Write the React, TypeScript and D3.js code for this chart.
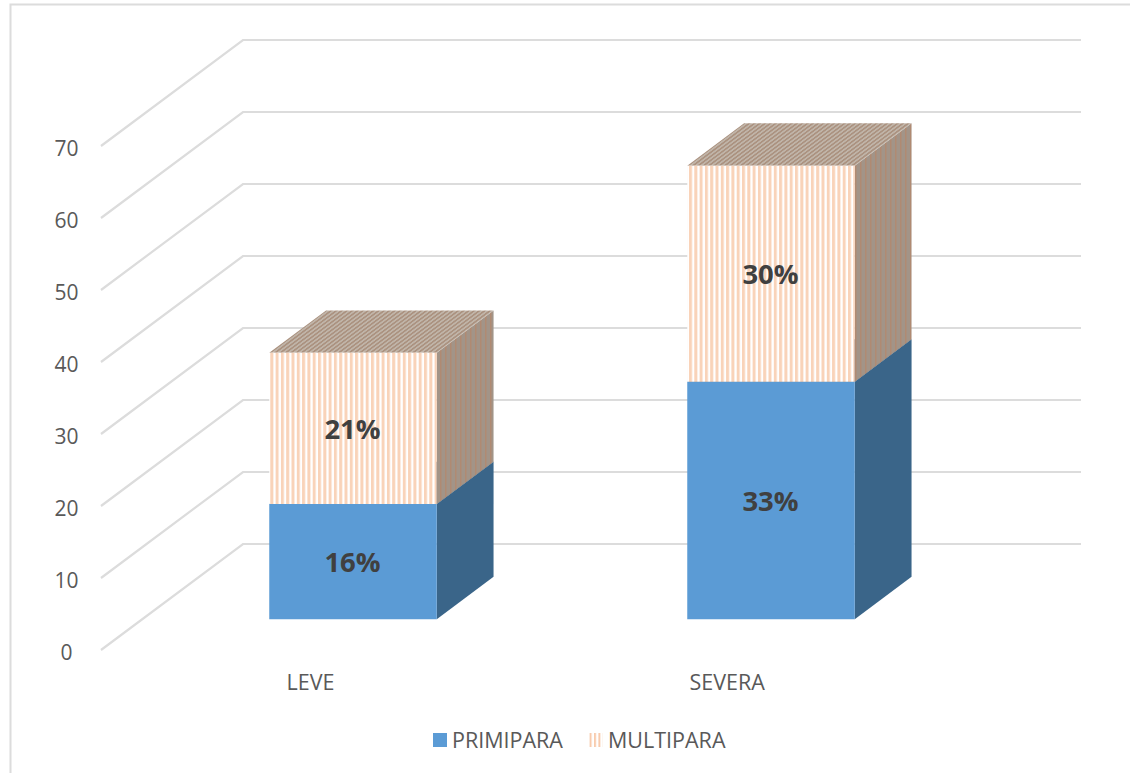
import React from "react";
import * as d3 from "d3";

const categories = ["LEVE", "SEVERA"];
const primipara = [16, 33];
const multipara = [21, 30];
const primiparaLabels = ["16%", "33%"];
const multiparaLabels = ["21%", "30%"];
const ticks = [0, 10, 20, 30, 40, 50, 60, 70];
const legendItems = ["PRIMIPARA", "MULTIPARA"];

const W = 1130, H = 773;
const FONT = "'Open Sans', sans-serif";
const y = d3.scaleLinear().domain([0, 70]).range([650, 146]);
const x = d3.scalePoint<string>().domain(categories).range([353, 771]);
const BAR_W = 167.5;
const DX = 142, DY = 106;
const barD0 = 0.29, barD1 = 0.69;
const px = (X: number, d: number) => X + DX * d;
const py = (v: number, d: number) => y(v) - DY * d;
const pts = (a: [number, number][]) => a.map((p) => p.join(",")).join(" ");

function Box({ cx, lo, hi, front, side, top }: any) {
  const l = cx - BAR_W / 2 - DX * barD0, r = l + BAR_W;
  const f = (X: number, v: number, d: number): [number, number] => [px(X, d), py(v, d)];
  return (
    <g>
      <polygon points={pts([f(r, lo, barD0), f(r, lo, barD1), f(r, hi, barD1), f(r, hi, barD0)])} fill={side} />
      <polygon points={pts([f(l, hi, barD0), f(r, hi, barD0), f(r, hi, barD1), f(l, hi, barD1)])} fill={top} />
      <polygon points={pts([f(l, lo, barD0), f(r, lo, barD0), f(r, hi, barD0), f(l, hi, barD0)])} fill={front} />
    </g>
  );
}

export default function App() {
  return (
    <svg width={W} height={H} style={{ position: "fixed", left: 0, top: 0, background: "#fff" }}>
      <defs>
        <pattern id="front" width={5.3} height={10} patternUnits="userSpaceOnUse">
          <rect width={5.3} height={10} fill="#fff" />
          <rect width={3} height={10} fill="#f9d3b9" />
        </pattern>
        <pattern id="legendP" width={4.4} height={10} patternUnits="userSpaceOnUse">
          <rect width={4.4} height={10} fill="#fff" />
          <rect width={2} height={10} fill="#f8cbad" />
        </pattern>
        <pattern id="side" width={5} height={10} patternUnits="userSpaceOnUse">
          <rect width={5} height={10} fill="#a29488" />
          <rect width={1.5} height={10} fill="#b08a72" />
        </pattern>
        <pattern id="top" width={5.3} height={10} patternUnits="userSpaceOnUse" patternTransform="skewX(-53)">
          <rect width={5.3} height={10} fill="#c0b4a8" />
          <rect width={2.6} height={10} fill="#ab9280" />
        </pattern>
      </defs>

      <path d={`M10.5,${H}V4.5H${W}`} fill="none" stroke="#dcdcdc" strokeWidth={2} />

      {ticks.map((t) => (
        <polyline
          key={t}
          points={pts([
            [101, y(t)],
            [101 + DX, y(t) - DY],
            [1081, y(t) - DY],
          ])}
          fill="none"
          stroke="#dcdcdc"
          strokeWidth={2.2}
        />
      ))}

      {ticks.map((t) => (
        <text key={t} x={66.5} y={y(t) + 9.5} fontFamily={FONT} fontSize={21} fill="#595959" textAnchor="middle">
          {t}
        </text>
      ))}

      {categories.map((c, i) => {
        const cx = x(c)!;
        return (
          <g key={c}>
            <Box cx={cx} lo={0} hi={primipara[i]} front="#5b9bd5" side="#3a6589" top="#3a6589" />
            <Box cx={cx} lo={primipara[i]} hi={primipara[i] + multipara[i]} front="url(#front)" side="url(#side)" top="url(#top)" />
            <text x={cx - 0.5} y={y(primipara[i] / 2) - 31 + 11} fontFamily={FONT} fontSize={27.5} fontWeight={700} fill="#404040" textAnchor="middle">
              {primiparaLabels[i]}
            </text>
            <text x={cx - 0.5} y={y(primipara[i] + multipara[i] / 2) - 31 + 11} fontFamily={FONT} fontSize={27.5} fontWeight={700} fill="#404040" textAnchor="middle">
              {multiparaLabels[i]}
            </text>
          </g>
        );
      })}

      <text x={286.5} y={690} fontFamily={FONT} fontSize={21.5} fill="#595959">{categories[0]}</text>
      <text x={689.5} y={690} fontFamily={FONT} fontSize={21.5} fill="#595959">{categories[1]}</text>

      <rect x={433} y={733} width={14} height={14} fill="#5b9bd5" />
      <text x={452} y={747.5} fontFamily={FONT} fontSize={21.5} fill="#595959">{legendItems[0]}</text>
      <rect x={589} y={733} width={14} height={14} fill="url(#legendP)" />
      <text x={608} y={747.5} fontFamily={FONT} fontSize={21.5} fill="#595959">{legendItems[1]}</text>
    </svg>
  );
}
